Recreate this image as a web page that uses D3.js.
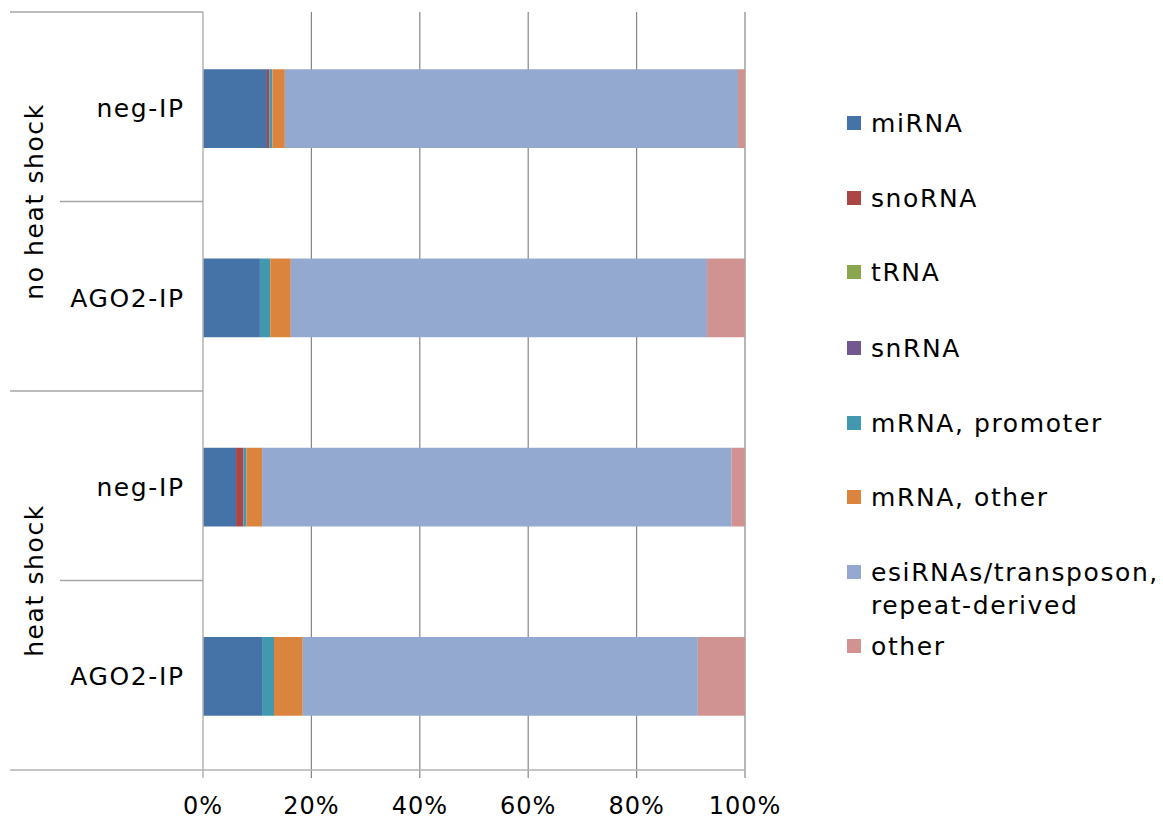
<!DOCTYPE html>
<html>
<head>
<meta charset="utf-8">
<script src="https://cdn.jsdelivr.net/npm/d3@7"></script>
<style>
  body { margin: 0; background: #fff; }
  svg text { font-family: "DejaVu Sans", Verdana, sans-serif; fill: #000; }
</style>
</head>
<body>
<svg id="chart" width="1163" height="824"></svg>
<script>
// Row labels (top to bottom) and their condition groups
const samples = ["neg-IP", "AGO2-IP", "neg-IP", "AGO2-IP"];
const groups = ["no heat shock", "heat shock"];
const rowKeys = ["nhs-neg", "nhs-ago2", "hs-neg", "hs-ago2"];

// Read-class names
const classes = ["miRNA", "snoRNA", "tRNA", "snRNA", "mRNA, promoter", "mRNA, other",
                 "esiRNAs/transposon, repeat-derived", "other"];

// Percent of reads per class, one array per class, ordered like rowKeys
const miRNA        = [11.8, 10.5, 6.1, 10.9];
const snoRNA       = [0.4, 0.0, 1.3, 0.0];
const tRNA         = [0.0, 0.0, 0.0, 0.0];
const snRNA        = [0.1, 0.0, 0.1, 0.0];
const mRNAPromoter = [0.5, 1.9, 0.5, 2.2];
const mRNAOther    = [2.3, 3.8, 2.9, 5.3];
const esiRNA       = [83.6, 76.8, 86.6, 72.9];
const otherRNA     = [1.3, 7.0, 2.5, 8.7];

const xTicks = [0, 0.2, 0.4, 0.6, 0.8, 1.0];

const colors = ["#4572A7", "#AA4643", "#89A54E", "#71588F", "#4198AF", "#DB843D", "#93A9CF", "#D19392"];

const seriesValues = [miRNA, snoRNA, tRNA, snRNA, mRNAPromoter, mRNAOther, esiRNA, otherRNA];

// Build table rows for the stack generator
const table = rowKeys.map((k, i) => {
  const row = { key: k };
  classes.forEach((c, j) => { row[c] = seriesValues[j][i]; });
  return row;
});

const stack = d3.stack().keys(classes).offset(d3.stackOffsetExpand);
const layers = stack(table);

const svg = d3.select("#chart");

const plot = { left: 203, right: 745, top: 12, bottom: 770 };

const x = d3.scaleLinear().domain([0, 1]).range([plot.left, plot.right]);
const y = d3.scaleBand().domain(rowKeys).range([plot.top + 2, plot.bottom + 1])
  .paddingInner(0.584).paddingOuter(0.292);

// Vertical gridlines
svg.append("g").selectAll("line").data(xTicks.slice(1)).join("line")
  .attr("x1", d => x(d)).attr("x2", d => x(d))
  .attr("y1", plot.top).attr("y2", plot.bottom + 8)
  .attr("stroke", "#868686").attr("stroke-width", 1.2);

// Stacked bars
svg.append("g").selectAll("g").data(layers).join("g")
  .attr("fill", (d, i) => colors[i])
  .selectAll("rect").data(d => d).join("rect")
  .attr("x", d => x(d[0]))
  .attr("width", d => Math.max(0, x(d[1]) - x(d[0])))
  .attr("y", d => y(d.data.key))
  .attr("height", y.bandwidth());

// Category axis line and bottom value axis line
const axisColor = "#b3b3b3";
svg.append("line").attr("x1", plot.left).attr("x2", plot.left)
  .attr("y1", plot.top).attr("y2", plot.bottom + 8)
  .attr("stroke", axisColor).attr("stroke-width", 1.5);
svg.append("line").attr("x1", 10).attr("x2", plot.right)
  .attr("y1", plot.bottom).attr("y2", plot.bottom)
  .attr("stroke", axisColor).attr("stroke-width", 1.5);

// Category separators: sample level and group level
const step = (plot.bottom - plot.top) / rowKeys.length;
const sepColor = "#a6a6a6";
svg.append("line").attr("x1", 10).attr("x2", plot.left).attr("y1", plot.top).attr("y2", plot.top)
  .attr("stroke", sepColor).attr("stroke-width", 1.5);
[1, 3].forEach(i => {
  const yy = plot.top + step * i;
  svg.append("line").attr("x1", 60).attr("x2", plot.left).attr("y1", yy).attr("y2", yy)
    .attr("stroke", sepColor).attr("stroke-width", 1.5);
});
svg.append("line").attr("x1", 10).attr("x2", plot.left)
  .attr("y1", plot.top + step * 2).attr("y2", plot.top + step * 2)
  .attr("stroke", sepColor).attr("stroke-width", 1.5);

// Sample labels
const labelFont = 25;
const spacing = 1.6;
svg.append("g").selectAll("text").data(rowKeys).join("text")
  .attr("x", 183 + spacing)
  .attr("y", d => y(d) + y.bandwidth() / 2)
  .attr("dy", "0.35em")
  .attr("text-anchor", "end")
  .style("font-size", labelFont + "px")
  .style("letter-spacing", spacing + "px")
  .text((d, i) => samples[i]);

// Group labels, rotated
groups.forEach((g, i) => {
  const cy = plot.top + step * (2 * i + 1);
  svg.append("text")
    .attr("transform", `translate(34,${cy}) rotate(-90)`)
    .attr("dy", "0.35em")
    .attr("text-anchor", "middle")
    .style("font-size", labelFont + "px")
    .style("letter-spacing", spacing + "px")
    .text(g);
});

// Value axis labels
svg.append("g").selectAll("text").data(xTicks).join("text")
  .attr("x", d => x(d))
  .attr("y", 814)
  .attr("text-anchor", "middle")
  .style("font-size", "24px")
  .style("letter-spacing", "1px")
  .text(d => d3.format(".0%")(d));

// Legend
const legendY = [123, 198, 272, 348, 423, 497, 572, 646];
const legend = svg.append("g").selectAll("g").data(classes).join("g")
  .attr("transform", (d, i) => `translate(847,${legendY[i]})`);
legend.append("rect").attr("x", 0).attr("y", -7).attr("width", 14).attr("height", 14)
  .attr("fill", (d, i) => colors[i]);
legend.append("text")
  .attr("x", 24).attr("dy", "0.35em")
  .style("font-size", labelFont + "px")
  .style("letter-spacing", spacing + "px")
  .each(function (d) {
    const t = d3.select(this);
    if (d.startsWith("esiRNAs")) {
      t.append("tspan").attr("x", 24).text("esiRNAs/transposon,");
      t.append("tspan").attr("x", 24).attr("dy", "1.32em").text("repeat-derived");
    } else {
      t.text(d);
    }
  });
</script>
</body>
</html>
